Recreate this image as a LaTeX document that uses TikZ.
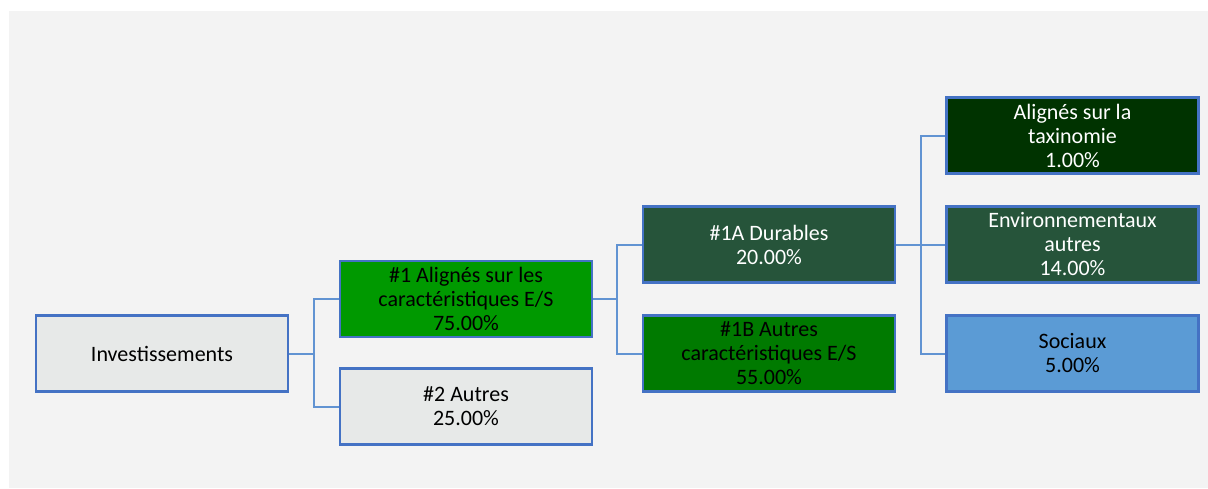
\documentclass[tikz,border=0pt]{standalone}
\usepackage{fontspec}
\setmainfont{Carlito}
\definecolor{backgrey}{HTML}{F3F3F3}
\definecolor{boxgrey}{HTML}{E7E9E8}
\definecolor{boxblue}{HTML}{4472C4}
\definecolor{linkblue}{HTML}{6193D2}
\definecolor{esgreen}{HTML}{009900}
\definecolor{othergreen}{HTML}{007A00}
\definecolor{sustgreen}{HTML}{26543A}
\definecolor{taxgreen}{HTML}{003300}
\definecolor{socblue}{HTML}{5B9BD5}
\begin{document}
\begin{tikzpicture}[x=0.5pt, y=-0.5pt,
    box/.style={draw=boxblue, line width=1.2pt, minimum width=126pt,
                minimum height=38pt, align=center, inner sep=0pt,
                font=\fontsize{11}{12}\selectfont},
    link/.style={draw=linkblue, line width=1pt}]
    % Page
    \useasboundingbox (0, 0) rectangle (1208, 488);
    \fill [backgrey] (9, 11) rectangle (1208, 488);

    % First level
    \node [box, fill=boxgrey] (inv) at (162, 353.5) {Investissements};

    % Second level
    \node [box, fill=esgreen] (es) at (466, 299)
          {\#1 Alignés sur les\\caractéristiques E/S\\75.00\%};
    \node [box, fill=boxgrey] (other) at (466, 406.5)
          {\#2 Autres\\25.00\%};

    % Third level
    \node [box, fill=sustgreen, text=white] (sust) at (769, 244.5)
          {\#1A Durables\\20.00\%};
    \node [box, fill=othergreen] (otheres) at (769, 353.5)
          {\#1B Autres\\caractéristiques E/S\\55.00\%};

    % Fourth level
    \node [box, fill=taxgreen, text=white] (tax) at (1072.5, 135.5)
          {Alignés sur la\\taxinomie\\1.00\%};
    \node [box, fill=sustgreen, text=white] (env) at (1072.5, 244.5)
          {Environnementaux\\autres\\14.00\%};
    \node [box, fill=socblue] (soc) at (1072.5, 353.5)
          {Sociaux\\5.00\%};

    % Connections
    \coordinate (j1) at (314, 353.5);
    \coordinate (j2) at (617, 299);
    \coordinate (j3) at (921, 244.5);

    \draw [link] (inv.east) -- (j1);
    \draw [link] (es.west) -| (j1) |- (other.west);

    \draw [link] (es.east) -- (j2);
    \draw [link] (sust.west) -| (j2) |- (otheres.west);

    \draw [link] (sust.east) -- (j3);
    \draw [link] (tax.west) -| (j3) |- (soc.west);
    \draw [link] (j3) -- (env.west);
\end{tikzpicture}
\end{document}
